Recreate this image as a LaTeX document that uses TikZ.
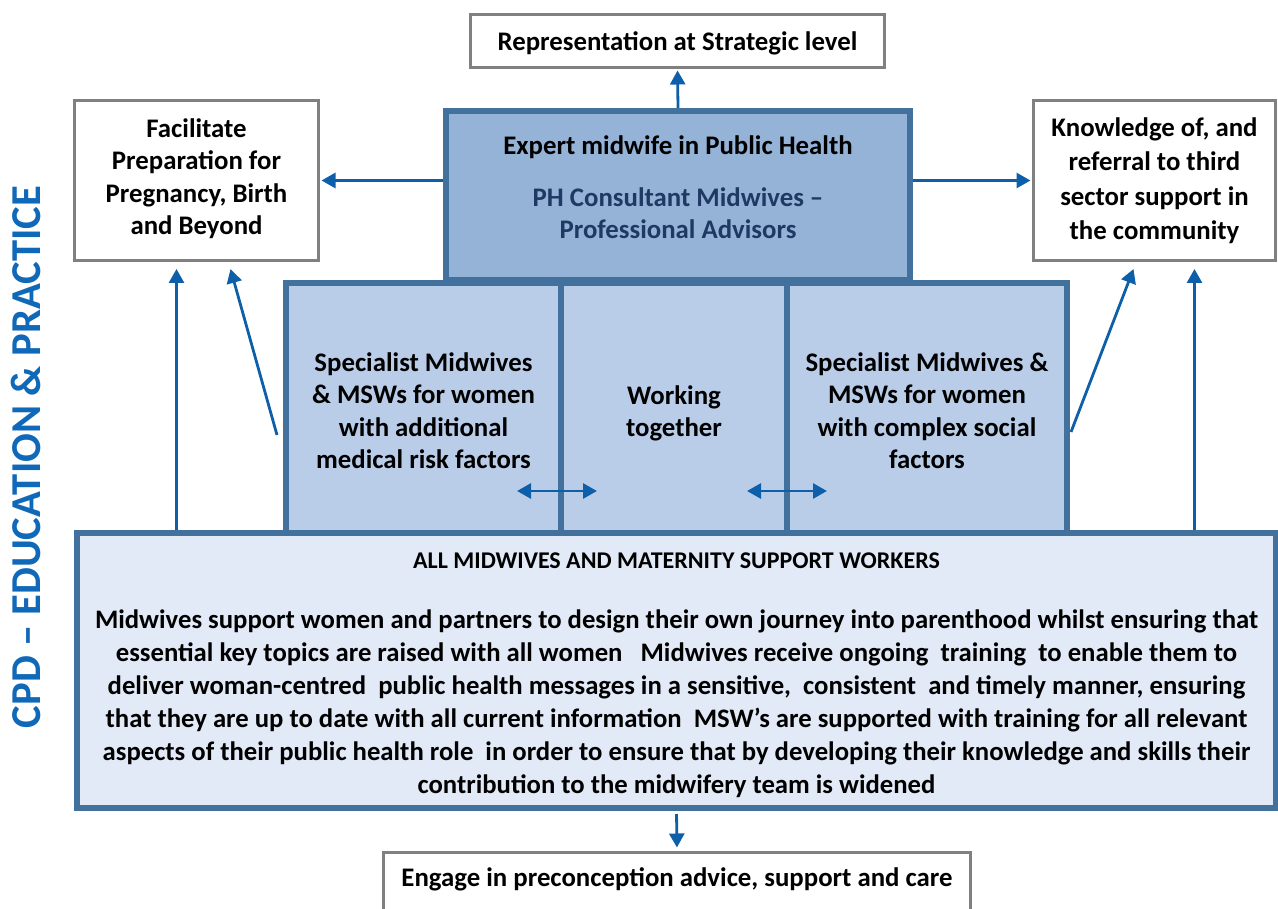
\documentclass[tikz,border=0pt]{standalone}
\usepackage{fontspec}
\setmainfont{Carlito}
\usetikzlibrary{arrows.meta,positioning}
\definecolor{boxgray}{RGB}{128,128,128}
\definecolor{boxblue}{RGB}{65,113,156}
\definecolor{arrblue}{RGB}{14,95,170}
\definecolor{expertfill}{RGB}{149,179,215}
\definecolor{midfill}{RGB}{185,205,233}
\definecolor{allfill}{RGB}{227,234,247}
\definecolor{navytext}{RGB}{31,56,100}
\definecolor{cpdblue}{RGB}{16,104,184}

\tikzset{
  txt/.style={font=\bfseries\fontsize{26.8}{32.5}\selectfont, align=center, inner sep=0pt},
  graybox/.style={txt, draw=boxgray, line width=3pt, fill=white},
  bluebox/.style={txt, draw=boxblue, line width=6pt},
  arr/.style={draw=arrblue, line width=2.8pt, -{Triangle[length=14pt,width=15pt]}},
  dblarr/.style={draw=arrblue, line width=2.8pt, {Triangle[length=14pt,width=15pt]}-{Triangle[length=14pt,width=15pt]}}
}

\begin{document}
\begin{tikzpicture}[x=1pt, y=-1pt]
      \useasboundingbox (0,0) rectangle (1278,909);
      \node (strat) [graybox, minimum width=414, minimum height=53, text depth=0pt] at (677.5,41) {Representation at Strategic level};
      \node (prep) [graybox, minimum width=244, minimum height=160, text depth=8pt] at (196.5,180.5) {Facilitate\\Preparation for\\Pregnancy, Birth\\and Beyond};
      \node (know) [graybox, minimum width=242, minimum height=160, font=\bfseries\fontsize{26.8}{34.5}\selectfont] at (1154.5,180.5) {Knowledge of, and\\referral to third\\sector support in\\the community};
      \node (spmed) [bluebox, fill=midfill, minimum width=275, minimum height=250, text height=122pt] at (423.5,408) {Specialist Midwives\\\& MSWs for women\\with additional\\medical risk factors};
      \node (work) [bluebox, fill=midfill, minimum width=226, minimum height=250, text height=62pt] at (674,408) {Working\\together};
      \node (spsoc) [bluebox, fill=midfill, minimum width=280, minimum height=250, text height=122pt] at (927,408) {Specialist Midwives \&\\MSWs for women\\with complex social\\factors};
      \node (expert) [bluebox, fill=expertfill, minimum width=464, minimum height=169, text depth=16pt] at (678,195.5) {Expert midwife in Public Health\\[19pt]\color{navytext}PH Consultant Midwives --\\\color{navytext}Professional Advisors};
      \node (allmw) [bluebox, fill=allfill, minimum width=1199, minimum height=275, text height=250pt, font=\bfseries\fontsize{26.7}{33}\selectfont] at (676.5,670.5) {{\fontsize{24}{28}\selectfont ALL MIDWIVES AND MATERNITY SUPPORT WORKERS}\\[27pt]
        Midwives support women and partners to design their own journey into parenthood whilst ensuring that\\
        essential key topics are raised with all women\ \ \ Midwives receive ongoing\ \ training\ \ to enable them to\\
        deliver woman-centred\ \ public health messages in a sensitive,\ \ consistent\ \ and timely manner, ensuring\\
        that they are up to date with all current information\ \ MSW’s are supported with training for all relevant\\
        aspects of their public health role\ \ in order to ensure that by developing their knowledge and skills their\\
        contribution to the midwifery team is widened};
      \node (engage) [graybox, anchor=north, minimum width=587, text height=18pt, text depth=70pt, inner ysep=16pt] at (677,850.5) {Engage in preconception advice, support and care};
      \node (cpd) [txt, rotate=90, text=cpdblue, font=\bfseries\fontsize{42.6}{48}\selectfont] at (26,457) {CPD -- EDUCATION \& PRACTICE};
      \coordinate (pl) at ([xshift=-20pt,yshift=-7pt]prep.south);
      \coordinate (pr) at ([xshift=40pt,yshift=-7pt]know.south);
      \coordinate (d1a) at (517,491);
      \coordinate (d1b) at (597,491);
      \coordinate (d2a) at (747,491);
      \coordinate (d2b) at (827,491);
      \draw [arr, shorten >=1.5pt] (expert.north) to (strat.south);
      \draw [arr, shorten >=1.5pt] (expert.west |- prep.east) to (prep.east);
      \draw [arr, shorten >=1.5pt] (expert.east |- know.west) to (know.west);
      \draw [arr] (allmw.north -| pl) to (pl);
      \draw [arr] (allmw.north -| pr) to (pr);
      \draw [arr] ([xshift=-6pt,yshift=-27pt]spmed.west) to ([xshift=34pt,yshift=-7pt]prep.south);
      \draw [arr] ([xshift=1pt,yshift=-24pt]spsoc.east) to ([xshift=-21pt,yshift=-7pt]know.south);
      \draw [arr, shorten <=3pt, shorten >=3pt] (allmw.south) to (engage.north);
      \draw [dblarr] (d1a) to (d1b);
      \draw [dblarr] (d2a) to (d2b);
\end{tikzpicture}
\end{document}
